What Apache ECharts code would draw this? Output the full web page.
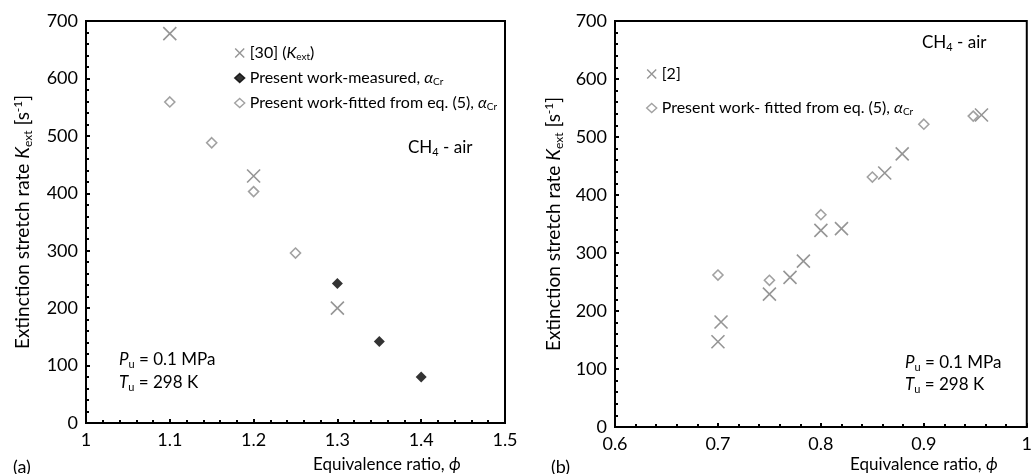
<!DOCTYPE html>
<html>
<head>
<meta charset="utf-8">
<script src="https://cdn.jsdelivr.net/npm/echarts@6/dist/echarts.min.js"></script>
<style>html,body{margin:0;padding:0;background:#fff;}#c{width:1035px;height:474px;}</style>
</head>
<body>
<div id="c"></div>
<script>
// ---- Panel (a) data ----
const ref30Phi = [1.1, 1.2, 1.3];
const ref30K = [678, 430, 200];
const measPhi = [1.3, 1.35, 1.4];
const measK = [243, 142, 80];
const fitAPhi = [1.1, 1.15, 1.2, 1.25];
const fitAK = [559, 488, 403, 296];
// ---- Panel (b) data ----
const ref2Phi = [0.7, 0.703, 0.75, 0.77, 0.783, 0.8, 0.82, 0.862, 0.879, 0.956];
const ref2K = [147, 181, 229, 258, 286, 339, 342, 438, 471, 538];
const fitBPhi = [0.7, 0.75, 0.8, 0.85, 0.9, 0.948];
const fitBK = [262, 253, 366, 431, 522, 536];
// ---- Axis ticks ----
const xTicksA = [1, 1.1, 1.2, 1.3, 1.4, 1.5];
const xTicksB = [0.6, 0.7, 0.8, 0.9, 1.0];
const yTicks = [0, 100, 200, 300, 400, 500, 600, 700];

const FONT = 'Lato';
function mkRich(fs) {
  return {
    i: { fontStyle: 'italic', fontFamily: FONT, fontSize: fs, color: '#000' },
    sub: { fontSize: Math.round(fs * 0.62), fontFamily: FONT, verticalAlign: 'bottom', color: '#000', padding: [Math.round(fs * 0.5), 0, 0, 0] },
    sup: { fontSize: Math.round(fs * 0.62), fontFamily: FONT, verticalAlign: 'top', color: '#000', padding: [0, 0, Math.round(fs * 0.5), 0] }
  };
}
const rich = mkRich(16);
const richBig = mkRich(19);
const zip = (a, b) => a.map((v, i) => [v, b[i]]);
const CROSS = 'path://M0,0L10,10M10,0L0,10';

const legendLabels = {
  'ref30': '[30] ({i|K}{sub|ext})',
  'meas': 'Present work-measured, {i|α}{sub|Cr}',
  'fitA': 'Present work-fitted from eq. (5), {i|α}{sub|Cr}',
  'ref2': '[2]',
  'fitB': 'Present work- fitted from eq. (5), {i|α}{sub|Cr}'
};

function xAxisFor(ticks, idx) {
  return {
    type: 'value', gridIndex: idx,
    min: ticks[0], max: ticks[ticks.length - 1], interval: 0.1,
    axisLine: { lineStyle: { color: '#000', width: 2 } },
    axisTick: { inside: true, length: 4, lineStyle: { color: '#000', width: 2 } },
    minorTick: { show: true, splitNumber: 5, length: 3, lineStyle: { color: '#000', width: 2 } },
    splitLine: { show: false },
    axisLabel: { color: '#000', fontSize: 18, fontFamily: FONT, margin: 8,
      formatter: v => (Math.round(v * 10) / 10).toString() }
  };
}
function yAxisFor(idx, gap) {
  return {
    type: 'value', gridIndex: idx,
    min: yTicks[0], max: yTicks[yTicks.length - 1], interval: 100,
    axisLine: { show: true, lineStyle: { color: '#000', width: 2 } },
    axisTick: { show: true, inside: true, length: 4, lineStyle: { color: '#000', width: 2 } },
    minorTick: { show: true, splitNumber: 5, length: 3, lineStyle: { color: '#000', width: 2 } },
    splitLine: { show: false },
    axisLabel: { color: '#000', fontSize: 18, fontFamily: FONT, margin: 8 },
    name: 'Extinction stretch rate {i|K}{sub|ext} [s{sup|-1}]',
    nameLocation: 'middle', nameRotate: 90, nameGap: gap,
    nameTextStyle: { color: '#000', fontSize: 19, fontFamily: FONT, rich: richBig }
  };
}

const crossStyle = { color: 'transparent', borderColor: '#7a7a7a', borderWidth: 1.6 };
const openStyle = { color: '#fff', borderColor: '#8a8a8a', borderWidth: 1.6 };
const fillStyle = { color: '#000', borderColor: '#000', borderWidth: 0 };

function gtext(x, y, text, fs) {
  fs = fs || 16;
  return {
    type: 'text', x: x, y: y,
    style: { text: text, fill: '#000', fontSize: fs, fontFamily: FONT,
      rich: mkRich(fs), align: 'left', verticalAlign: 'middle' }
  };
}

const legendCommon = {
  orient: 'vertical', itemWidth: 10, itemHeight: 9,
  textStyle: { color: '#000', fontSize: 16, fontFamily: FONT, rich: rich },
  formatter: n => legendLabels[n],
  itemStyle: { borderWidth: 1.4 },
  selectedMode: false
};

const option = {
  animation: false,
  backgroundColor: '#fff',
  grid: [
    { left: 86, top: 21, right: 530, bottom: 51, show: true, borderColor: '#000', borderWidth: 2, backgroundColor: 'transparent' },
    { left: 615, top: 21, right: -3, bottom: 47, show: true, borderColor: '#000', borderWidth: 2, backgroundColor: 'transparent' }
  ],
  xAxis: [xAxisFor(xTicksA, 0), xAxisFor(xTicksB, 1)],
  yAxis: [yAxisFor(0, 52), yAxisFor(1, 50)],
  legend: [
    Object.assign({ left: 229, top: 40, itemGap: 8, data: ['ref30', 'meas', 'fitA'] }, legendCommon),
    Object.assign({ left: 641, top: 61, itemGap: 18, data: ['ref2', 'fitB'] }, legendCommon)
  ],
  series: [
    { name: 'ref30', type: 'scatter', xAxisIndex: 0, yAxisIndex: 0, symbol: CROSS, symbolSize: 13,
      itemStyle: crossStyle, data: zip(ref30Phi, ref30K) },
    { name: 'meas', type: 'scatter', xAxisIndex: 0, yAxisIndex: 0, symbol: 'diamond', symbolSize: 11,
      itemStyle: fillStyle, data: zip(measPhi, measK) },
    { name: 'fitA', type: 'scatter', xAxisIndex: 0, yAxisIndex: 0, symbol: 'diamond', symbolSize: 10,
      itemStyle: openStyle, data: zip(fitAPhi, fitAK) },
    { name: 'ref2', type: 'scatter', xAxisIndex: 1, yAxisIndex: 1, symbol: CROSS, symbolSize: 13,
      itemStyle: crossStyle, data: zip(ref2Phi, ref2K) },
    { name: 'fitB', type: 'scatter', xAxisIndex: 1, yAxisIndex: 1, symbol: 'diamond', symbolSize: 10,
      itemStyle: openStyle, data: zip(fitBPhi, fitBK) }
  ],
  graphic: [
    gtext(408, 148, 'CH{sub|4} - air', 17),
    gtext(922, 43, 'CH{sub|4} - air', 17),
    gtext(119, 360, '{i|P}{sub|u} = 0.1 MPa', 17),
    gtext(119, 383, '{i|T}{sub|u} = 298 K', 17),
    gtext(905, 363, '{i|P}{sub|u} = 0.1 MPa', 17),
    gtext(905, 385, '{i|T}{sub|u} = 298 K', 17),
    gtext(13, 467, '(a)', 18),
    gtext(551, 467, '(b)', 18),
    gtext(313, 465, 'Equivalence ratio, {i|ϕ}', 17),
    gtext(850, 465, 'Equivalence ratio, {i|ϕ}', 17)
  ]
};

const chart = echarts.init(document.getElementById('c'), null, { renderer: 'canvas' });
chart.setOption(option);
</script>
</body>
</html>
